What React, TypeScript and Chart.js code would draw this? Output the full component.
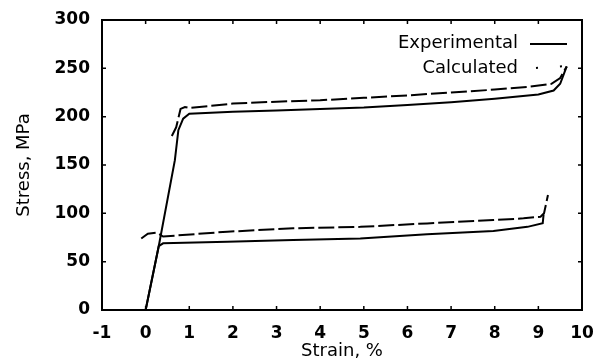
import React, { useEffect, useRef } from "react";
import { Chart, registerables } from "chart.js";

Chart.register(...registerables);

// Experimental, upper test
const expUpperStrain = [0, 0.3, 0.67, 0.75, 0.86, 1.0, 2, 3, 4, 5, 6, 7, 8, 9, 9.35, 9.5, 9.6, 9.65];
const expUpperStress = [0, 66, 155, 186, 198, 203, 205, 206.5, 208, 209.5, 212, 215, 218.5, 223, 227, 234, 246, 252];

// Calculated, upper test
const calcUpperStrain = [0.6, 0.7, 0.8, 0.9, 1.0, 2, 3, 4, 5, 6, 7, 8, 8.8, 9.3, 9.5, 9.65];
const calcUpperStress = [180, 189, 208, 210, 209, 213.5, 215.5, 217, 219.5, 222, 225, 228, 231, 234, 240, 252];

// Experimental, lower test
const expLowerStrain = [0, 0.3, 0.4, 1.87, 3.38, 4.92, 6.45, 7.97, 8.75, 9.1, 9.12];
const expLowerStress = [0, 66, 69, 70.7, 72.4, 74, 78.3, 81.7, 86, 89.7, 99];

// Calculated, lower test
const calcLowerStrain = [-0.1, 0.05, 0.25, 0.4, 1.87, 3.38, 4.92, 6.45, 7.97, 8.66, 9.05, 9.13, 9.22];
const calcLowerStress = [74, 79, 80, 76, 81, 84.5, 86, 89.6, 93, 94.8, 96.5, 100, 119];

const xTicks = [-1, 0, 1, 2, 3, 4, 5, 6, 7, 8, 9, 10];
const yTicks = [0, 50, 100, 150, 200, 250, 300];
const legendLabels = ["Experimental", "Calculated"];

const FONT = "'DejaVu Sans', sans-serif";

function pts(xs: number[], ys: number[]) {
  return xs.map((x, i) => ({ x, y: ys[i] }));
}

const boxPlugin = {
  id: "boxPlugin",
  afterDraw(chart: any) {
    const ctx = chart.ctx;
    const xs = chart.scales.x;
    const ys = chart.scales.y;
    const left = xs.getPixelForValue(-1);
    const right = xs.getPixelForValue(10);
    const top = ys.getPixelForValue(300);
    const bottom = ys.getPixelForValue(0);
    ctx.save();
    ctx.setLineDash([]);
    ctx.strokeStyle = "#000";
    ctx.lineWidth = 2;
    ctx.beginPath();
    ctx.moveTo(left, top);
    ctx.lineTo(right, top);
    ctx.lineTo(right, bottom);
    ctx.lineTo(left, bottom);
    ctx.closePath();
    ctx.stroke();
    ctx.lineWidth = 1.5;
    ctx.beginPath();
    for (const v of xTicks) {
      const px = xs.getPixelForValue(v);
      ctx.moveTo(px, bottom);
      ctx.lineTo(px, bottom - 4);
      ctx.moveTo(px, top);
      ctx.lineTo(px, top + 4);
    }
    for (const v of yTicks) {
      const py = ys.getPixelForValue(v);
      ctx.moveTo(left, py);
      ctx.lineTo(left + 4, py);
      ctx.moveTo(right, py);
      ctx.lineTo(right - 4, py);
    }
    ctx.stroke();

    // legend
    ctx.fillStyle = "#000";
    ctx.font = `18px ${FONT}`;
    ctx.textAlign = "right";
    ctx.textBaseline = "middle";
    ctx.fillText(legendLabels[0], 518, 43);
    ctx.fillText(legendLabels[1], 518, 68);
    ctx.lineWidth = 2;
    ctx.beginPath();
    ctx.moveTo(530, 44);
    ctx.lineTo(567, 44);
    ctx.stroke();
    ctx.setLineDash([2, 22]);
    ctx.beginPath();
    ctx.moveTo(536, 68);
    ctx.lineTo(566, 66);
    ctx.stroke();
    ctx.restore();
  },
};

export default function App() {
  const ref = useRef<HTMLCanvasElement>(null);
  useEffect(() => {
    if (!ref.current) return;
    const solid = { borderColor: "#000", borderWidth: 2, pointRadius: 0, tension: 0, fill: false };
    const dashed = { ...solid, borderDash: [16, 4] };
    const chart = new Chart(ref.current, {
      type: "line",
      data: {
        datasets: [
          { label: "Experimental", data: pts(expUpperStrain, expUpperStress), ...solid },
          { label: "Calculated", data: pts(calcUpperStrain, calcUpperStress), ...dashed },
          { label: "Experimental", data: pts(expLowerStrain, expLowerStress), ...solid },
          { label: "Calculated", data: pts(calcLowerStrain, calcLowerStress), ...dashed },
        ],
      },
      options: {
        responsive: false,
        animation: false,
        layout: { padding: { left: 0, right: 12, top: 20, bottom: 0 } },
        plugins: { legend: { display: false }, tooltip: { enabled: false } },
        scales: {
          x: {
            type: "linear",
            min: -1,
            max: 10,
            afterBuildTicks: (s: any) => {
              s.ticks = xTicks.map((v) => ({ value: v }));
            },
            afterFit: (s: any) => {
              s.height = 54;
              s.paddingLeft = 0;
              s.paddingRight = 0;
            },
            grid: { display: false, drawTicks: false },
            border: { display: false },
            ticks: {
              color: "#000",
              padding: 13,
              maxRotation: 0,
              autoSkip: false,
              font: { family: FONT, size: 17, weight: "bold" },
            },
            title: {
              display: true,
              text: "Strain, %",
              color: "#000",
              font: { family: FONT, size: 18 },
              padding: { top: 0, bottom: 2 },
            },
          },
          y: {
            type: "linear",
            min: 0,
            max: 300,
            afterBuildTicks: (s: any) => {
              s.ticks = yTicks.map((v) => ({ value: v }));
            },
            afterFit: (s: any) => {
              s.width = 102;
              s.paddingTop = 0;
              s.paddingBottom = 0;
            },
            grid: { display: false, drawTicks: false },
            border: { display: false },
            ticks: {
              color: "#000",
              padding: 12,
              font: { family: FONT, size: 17, weight: "bold" },
            },
            title: {
              display: true,
              text: "Stress, MPa",
              color: "#000",
              font: { family: FONT, size: 18 },
              padding: { top: 14, bottom: 0 },
            },
          },
        },
      },
      plugins: [boxPlugin],
    } as any);
    return () => chart.destroy();
  }, []);
  return (
    <div style={{ position: "absolute", left: 0, top: 0, width: 594, height: 364, background: "#fff" }}>
      <canvas ref={ref} width={594} height={364} />
    </div>
  );
}
